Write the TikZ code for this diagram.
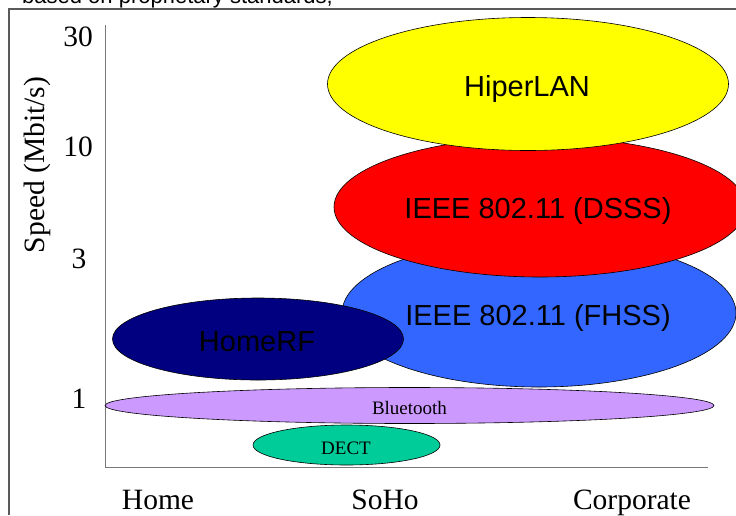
\documentclass[tikz,border=0pt]{standalone}
\usepackage{xcolor}
\usepackage{fontspec}
\setmainfont{Liberation Serif}
\setsansfont{Liberation Sans}
\usepackage{tikz}
\usetikzlibrary{shapes,positioning}

\definecolor{hiperlancol}{RGB}{255,255,0}
\definecolor{dssscol}{RGB}{255,0,0}
\definecolor{fhsscol}{RGB}{51,102,255}
\definecolor{homerfcol}{RGB}{0,0,128}
\definecolor{bluetoothcol}{RGB}{204,153,255}
\definecolor{dectcol}{RGB}{0,204,153}
\definecolor{framecol}{RGB}{90,90,90}
\definecolor{axiscol}{RGB}{120,120,120}

\begin{document}
\begin{tikzpicture}[x=1pt, y=-1pt,
    blob/.style={ellipse, draw=black, line width=0.6pt, inner sep=0pt},
    bigtext/.style={anchor=base, inner sep=0pt, font=\sffamily\fontsize{29}{34}\selectfont},
    smalltext/.style={anchor=base, inner sep=0pt, font=\fontsize{19}{22}\selectfont},
    ticklabel/.style={anchor=base, inner sep=0pt, font=\fontsize{29.5}{34}\selectfont}]
    \useasboundingbox (0,0) rectangle (736,515);

    % caption of the slide, cut off at the top
    \node [anchor=base west, inner sep=0pt, font=\sffamily\fontsize{22}{26}\selectfont] (caption) at (22,3) {based on proprietary standards;};

    % frame
    \draw [line width=1.4pt, framecol] (9,515) |- (736,9);

    % axes
    \coordinate (ytop) at (105,25);
    \coordinate (origin) at (105,467);
    \coordinate (xend) at (708,467);
    \draw [line width=1pt, axiscol] (ytop) -- (origin) -- (xend);

    % speed ticks
    \node [ticklabel] (t30) at (78,46) {30};
    \node [ticklabel] (t10) at (78,156) {10};
    \node [ticklabel] (t3) at (79,268) {3};
    \node [ticklabel] (t1) at (79,408) {1};
    \node [ticklabel, anchor=center, rotate=90] (speed) at (37,165) {Speed (Mbit/s)};

    % market segments
    \node [ticklabel] (home) at (158,509) {Home};
    \node [ticklabel] (soho) at (385,509) {SoHo};
    \node [ticklabel] (corporate) at (632,509) {Corporate};

    % standards
    \node [blob, fill=fhsscol, minimum width=394pt, minimum height=148pt] (fhss) at (539,313) {};
    \node [bigtext] (fhsstext) at (538,325) {IEEE 802.11 (FHSS)};
    \node [blob, fill=dssscol, minimum width=412pt, minimum height=140pt] (dsss) at (540,207) {};
    \node [bigtext] (dssstext) at (538,218) {IEEE 802.11 (DSSS)};
    \node [blob, fill=hiperlancol, minimum width=401pt, minimum height=133pt] (hiperlan) at (528,84) {};
    \node [bigtext] (hiperlantext) at (527,96) {HiperLAN};
    \node [blob, fill=homerfcol, minimum width=291pt, minimum height=82pt] (homerf) at (258,339) {};
    \node [bigtext] (homerftext) at (257,351) {HomeRF};
    \node [blob, fill=bluetoothcol, minimum width=609pt, minimum height=36pt] (bluetooth) at (409.5,405.5) {};
    \node [smalltext] (bluetoothtext) at (409.5,414) {Bluetooth};
    \node [blob, fill=dectcol, minimum width=187pt, minimum height=40pt] (dect) at (346.5,445) {};
    \node [smalltext] (decttext) at (346,454) {DECT};
\end{tikzpicture}
\end{document}
